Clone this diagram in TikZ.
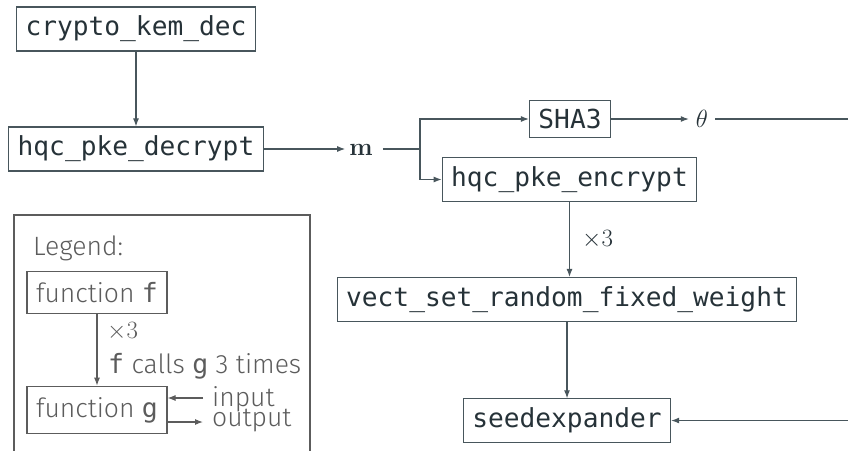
\documentclass[tikz,border=0pt]{standalone}
\usepackage[no-math]{fontspec}
\setmainfont{Fira Sans}[UprightFont={* Light}]
\setmonofont{DejaVu Sans Mono}
\usetikzlibrary{arrows.meta}
\definecolor{ink}{RGB}{38,50,56}
\definecolor{edgec}{RGB}{72,86,92}
\definecolor{lg}{RGB}{92,92,92}
\begin{document}
\begin{tikzpicture}[x=1pt,y=-1pt,
  fn/.style={draw=edgec, line width=1.1pt, text=ink, font=\ttfamily\fontsize{26.2}{30}\selectfont, inner xsep=9pt, inner ysep=9pt},
  arr/.style={draw=edgec, line width=1.1pt, -{Latex[length=8pt,width=6pt]}},
  ln/.style={draw=edgec, line width=1.1pt},
  lbox/.style={draw=lg, line width=1.1pt, text=lg, font=\fontsize{26.5}{30}\selectfont, inner ysep=11pt, minimum width=140pt},
  larr/.style={draw=lg, line width=1.1pt, -{Latex[length=8pt,width=6pt]}},
  ltxt/.style={text=lg, font=\fontsize{26.5}{30}\selectfont, inner sep=0pt},
  mtxt/.style={text=ink, font=\fontsize{27}{30}\selectfont, inner sep=0pt}]
\useasboundingbox (0,0) rectangle (848,450);
% main nodes
\node[fn] (kem) at (136,29) {crypto\_kem\_dec};
\node[fn] (dec) at (136,149) {hqc\_pke\_decrypt};
\node[mtxt, inner xsep=4pt, anchor=base] (m) at (361,155) {$\mathbf{m}$};
\coordinate (j) at (420,149);
\node[fn] (sha) at (570,119) {SHA3};
\node[fn] (enc) at (569.5,179.5) {hqc\_pke\_encrypt};
\node[mtxt, inner xsep=7pt] (th) at (702,119) {$\theta$};
\coordinate (r1) at (848,119);
\node[fn] (vect) at (567,299.5) {vect\_set\_random\_fixed\_weight};
\node[fn] (seed) at (567,420.5) {seedexpander};
\coordinate (r2) at (848,420.5);
\node[mtxt, anchor=west] (x3) at (582,240) {$\times3$};
% connectors
\draw[arr] (dec) -- (dec -| m.west);
\draw[ln] ([xshift=6pt]m.east |- j) -- (j);
\draw[arr] (kem) -- (dec);
\draw[arr] (j) |- (sha.west);
\draw[arr] (j) |- (enc.west);
\draw[arr] (sha) -- (th);
\draw[ln] (th.east) -- (r1);
\draw[arr] (enc.south) -- (enc.south |- vect.north);
\draw[arr] (vect.south) -- (vect.south |- seed.north);
\draw[arr] (r2) -- (seed.east);
% legend
\draw[lg, line width=2pt] (14,455) -- (14,215) -- (310,215) -- (310,455);
\node[ltxt, anchor=base west] (lt) at (33,255) {Legend:};
\node[lbox] (ff) at (97,292.5) {function \texttt{f}};
\node[lbox] (fg) at (97,410) {function \texttt{g}};
\draw[larr] (ff.south) -- (fg.north);
\node[ltxt, anchor=west] (lx3) at (107,332) {$\times3$};
\node[ltxt, anchor=base west] (lcalls) at (108,373) {\texttt{f} calls \texttt{g} 3 times};
\coordinate (in1) at (203,398);
\coordinate (out1) at (203,422);
\draw[larr] (in1) -- (fg.east |- in1);
\draw[larr] (fg.east |- out1) -- (out1);
\node[ltxt, anchor=base west] (lin) at (212,406) {input};
\node[ltxt, anchor=base west] (lout) at (212,426) {output};
\end{tikzpicture}
\end{document}
